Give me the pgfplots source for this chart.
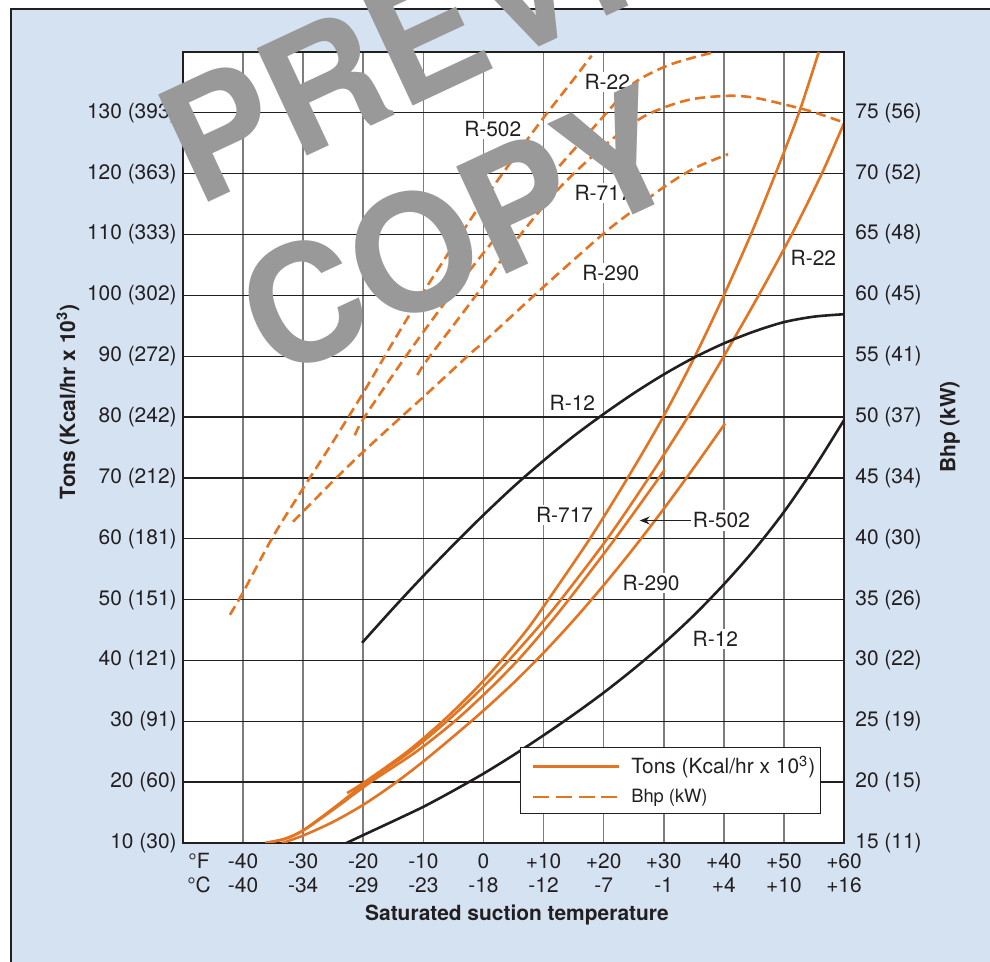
\documentclass[border=0pt]{standalone}
\usepackage{fontspec}
\setmainfont{TeX Gyre Heros}
\usepackage{pgfplots}
\pgfplotsset{compat=1.18}
\usetikzlibrary{arrows.meta}
\definecolor{bgblue}{RGB}{213,226,242}
\definecolor{org}{RGB}{226,116,34}
\definecolor{ink}{RGB}{35,31,32}
\definecolor{wm}{RGB}{153,153,153}
\definecolor{vgrid}{RGB}{125,125,125}
\begin{document}
\begin{tikzpicture}[x=1bp,y=1bp]
\useasboundingbox (0,0) rectangle (495,481);
\fill[white] (0,0) rectangle (495,481);
\fill[bgblue] (5.5,0) rectangle (495,476.5);
\draw[ink, line width=1.2bp] (5.5,0) -- (5.5,476.5) -- (495,476.5);
\begin{axis}[
  at={(91.5bp,59.5bp)}, anchor=south west, scale only axis,
  width=330.5bp, height=395.5bp,
  xmin=-50, xmax=60, ymin=10, ymax=140,
  axis background/.style={fill=white},
  xtick={-40,-30,...,60}, ytick={10,20,...,130},
  xticklabels={{-40\\-40},{-30\\-34},{-20\\-29},{-10\\-23},{0\\-18},{+10\\-12},{+20\\-7},{+30\\-1},{+40\\+4},{+50\\+10},{+60\\+16}},
  yticklabels={10 (30),20 (60),30 (91),40 (121),50 (151),60 (181),70 (212),80 (242),90 (272),100 (302),110 (333),120 (363),130 (393)},
  extra x ticks={-47.33}, extra x tick labels={{°F\\°C}},
  extra x tick style={grid=none},
  major tick length=0pt,
  xmajorgrids, ymajorgrids,
  x grid style={draw=vgrid, line width=0.8bp},
  y grid style={draw=ink, line width=0.65bp},
  axis line style={draw=ink, line width=0.8bp},
  tick label style={font=\fontsize{10.5}{12}\selectfont, text=ink},
  xticklabel style={align=center, inner sep=0pt, yshift=-5bp},
  yticklabel style={inner sep=0pt, xshift=-3bp},
  xlabel={Saturated suction temperature},
  xlabel style={at={(axis description cs:0.5053,-0.091)}, anchor=center, font=\fontsize{10.5}{12}\selectfont\bfseries, text=ink},
  ylabel={Tons (Kcal/hr x 10\textsuperscript{3})},
  ylabel style={at={(axis description cs:-0.174,0.5577)}, anchor=center, font=\fontsize{10.5}{12}\selectfont\bfseries, text=ink},
  legend style={at={(axis description cs:0.5098,0.1214)}, anchor=north west, draw=ink, line width=0.7bp, fill=white,
    font=\fontsize{10.5}{12}\selectfont, text=ink, inner xsep=2.5bp, inner ysep=4bp, row sep=6bp,
    nodes={inner sep=0pt, text=ink}, /tikz/every odd column/.append style={column sep=5.5bp}},
  legend cell align=left,
  legend image code/.code={\path (0bp,0bp); \draw[#1] (3bp,0bp) -- (46bp,0bp);},
  solidc/.style={draw=org, line width=1.3bp, smooth, tension=0.5},
  dashc/.style={draw=org, line width=1.3bp, smooth, tension=0.5, dash pattern=on 5bp off 2.7bp},
  blk/.style={draw=ink, line width=1.3bp, smooth, tension=0.5},
]
% legend images
\addlegendimage{draw=org, line width=1.3bp}
\addlegendentry{Tons (Kcal/hr x 10\textsuperscript{3})}
\addlegendimage{draw=org, line width=1.3bp, dash pattern=on 8bp off 3.4bp}
\addlegendentry{\fontsize{9.2}{11}\selectfont Bhp (kW)}
% Tons curves (solid)
\addplot[solidc, forget plot] coordinates {(-22.7,18.2) (-19.8,20) (-12.7,25) (-6.8,30) (-1.6,35) (3.0,40) (7.2,45) (10.8,50) (17.7,60) (24.0,70) (29.9,80) (35.2,90) (40.0,100) (44.5,110) (48.6,120) (52.5,130) (55.8,140)}; % R-717
\addplot[solidc, forget plot] coordinates {(-36.3,10) (-33,10.7) (-30,12.1) (-25,15.7) (-19.4,20) (-12.2,25) (-6.1,30) (-0.7,35) (4.2,40) (8.7,45) (12.9,50) (20.6,60) (27.5,70) (34,80) (40,90) (45.8,100) (51.3,110) (56.3,120) (60,128.3)}; % R-22
\addplot[solidc, forget plot] coordinates {(-36.3,10) (-33,10.7) (-29.9,12.1) (-24.7,15.7) (-18.8,20) (-11.2,25) (-4.8,30) (0.7,35) (5.7,40) (10.1,45) (14.2,50) (21.9,60) (29.2,70) (30.1,71.3)}; % R-502
\addplot[solidc, forget plot] coordinates {(-33.5,10) (-30,11.23) (-25,13.48) (-20,16.28) (-15,19.63) (-10,23.41) (-5,27.51) (0,31.76) (5,36.31) (10,41.26) (15,46.61) (20,52.36) (25,58.46) (30,64.91) (35,71.66) (40.2,78.94)}; % R-290
\addplot[blk, forget plot] coordinates {(-22.8,10) (-20,11.3) (-15,13.6) (-10,15.95) (-5,18.6) (0,21.4) (5,24.45) (10,27.7) (15,31.1) (20,34.7) (25,38.6) (30,42.8) (35,47.4) (40,52.5) (45,58.1) (50,64.4) (55,71.6) (60,79.5)}; % R-12 tons
% Bhp curves
\addplot[blk, forget plot] coordinates {(-20.2,42.9) (-15,48.6) (-10,53.9) (-5,59.0) (0,63.9) (5,68.55) (10,72.85) (15,76.85) (20,80.5) (25,83.9) (30,87.0) (35,89.75) (40,92.1) (45,94.05) (50,95.6) (55,96.5) (60,96.9)}; % R-12 bhp
\addplot[dashc, forget plot] coordinates {(-42.2,47.5) (-40,51.2) (-35,60.4) (-30,68.3) (-25,76.0) (-20,84.0) (-15,92.4) (-10,100.5) (-5,108.2) (0,115.6) (5,122.5) (10,129.2) (15,135.5) (18,139.4)}; % R-502
\addplot[dashc, forget plot] coordinates {(-21.4,77) (-19.8,80) (-12.9,90) (-5.5,100) (2.5,110) (11.5,120) (20.5,130) (24.9,134.8) (31,137.9) (38.5,140)}; % R-22
\addplot[dashc, forget plot] coordinates {(-11,86.9) (-9.3,89.5) (-2,99) (5,108.5) (12.5,117.5) (20,124.5) (26,129) (30.4,131) (35,132.3) (40.9,132.8) (45,132.5) (50,131.4) (55,130.1) (60,128.4)}; % R-717
\addplot[dashc, forget plot] coordinates {(-31.7,62.8) (-28,66.5) (-24.5,70) (-20,74.3) (-13.7,80) (-10,83.3) (-2,90.6) (0,92.3) (10,101.4) (19.8,110) (24.3,113.5) (29.3,117.3) (34.9,120.8) (40.7,123.2)}; % R-290
% labels
\tikzset{lab/.style={fill=white, inner sep=1.2bp, font=\fontsize{10.5}{12}\selectfont, text=ink}}
\node[lab] at (axis cs:20.6,135.1) {R-22};
\node[lab] at (axis cs:1.55,127.3) {R-502};
\node[lab] at (axis cs:19.9,116.8) {R-717};
\node[lab] at (axis cs:21.2,103.7) {R-290};
\node[lab] at (axis cs:14.8,82.3) {R-12};
\node[lab] at (axis cs:13.5,63.9) {R-717};
\draw[ink, line width=0.8bp, -{Stealth[length=5bp, width=4bp]}] (axis cs:35,63) -- (axis cs:26,63);
\node[lab] at (axis cs:39.6,63) {R-502};
\node[lab] at (axis cs:27.9,52.7) {R-290};
\node[lab] at (axis cs:38.6,43.6) {R-12};
\node[lab] at (axis cs:54.9,106.1) {R-22};
\end{axis}
\begin{axis}[
  at={(91.5bp,59.5bp)}, anchor=south west, scale only axis,
  width=330.5bp, height=395.5bp,
  xmin=-50, xmax=60, ymin=10, ymax=140,
  axis x line=none, axis y line*=right,
  ytick={10,20,...,130},
  yticklabels={15 (11),20 (15),25 (19),30 (22),35 (26),40 (30),45 (34),50 (37),55 (41),60 (45),65 (48),70 (52),75 (56)},
  major tick length=0pt,
  axis line style={draw=ink, line width=0.8bp},
  tick label style={font=\fontsize{10.5}{12}\selectfont, text=ink},
  yticklabel style={inner sep=0pt, xshift=5.5bp},
  ylabel={Bhp (kW)},
  ylabel style={at={(axis description cs:1.1604,0.526)}, anchor=center, font=\fontsize{10.5}{12}\selectfont\bfseries, text=ink},
]
\addplot[draw=none, forget plot] coordinates {(0,10)};
\end{axis}
\node[rotate=25, anchor=base west, inner sep=0pt, text=wm, font=\fontsize{81.5}{81.5}\selectfont\bfseries] at (98.4,377.4) {PREVIEW};
\node[rotate=25, anchor=base west, inner sep=0pt, text=wm, font=\fontsize{81.5}{81.5}\selectfont\bfseries] at (137.5,290) {COPY};
\end{tikzpicture}
\end{document}
